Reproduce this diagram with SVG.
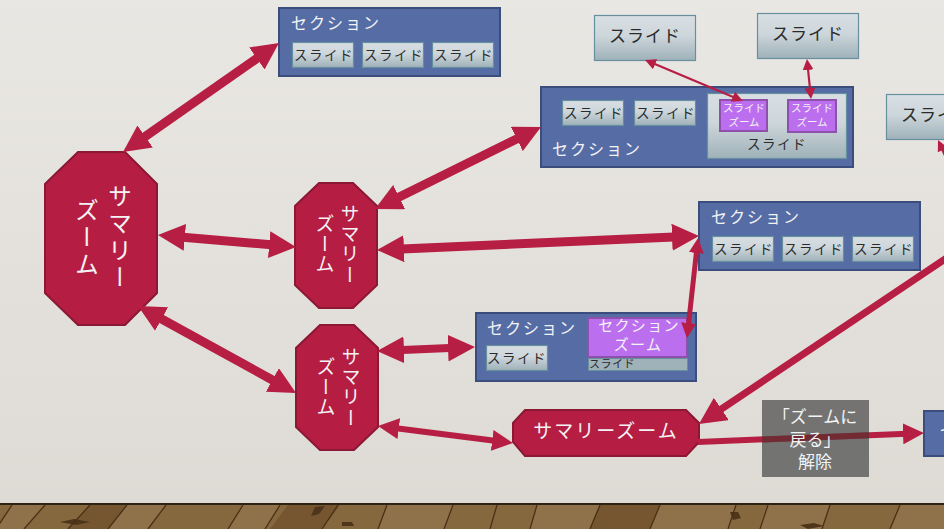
<svg xmlns="http://www.w3.org/2000/svg" width="944" height="529" viewBox="0 0 944 529">
<style>
text{font-family:"Noto Sans CJK JP","Liberation Sans",sans-serif}
.sec{fill:#566ca5;stroke:#3a4d7c;stroke-width:2}
.sl{fill:url(#sg);stroke:#66909f;stroke-width:1.2}
.oct{fill:#b61d42;stroke:#8b1834;stroke-width:2}
.z{fill:#bb6fee;stroke:#8d50ab;stroke-width:2}
.w{fill:#f3f3f5}
.d{fill:#2b2b2b}
.m{text-anchor:middle}
.v{writing-mode:vertical-rl;text-anchor:start}
.a{fill:none;stroke:#b71e44}
.h27{marker-start:url(#h27);marker-end:url(#h27)}
.h21{marker-start:url(#h21);marker-end:url(#h21)}
.h14{marker-start:url(#h14);marker-end:url(#h14)}
.h11{marker-start:url(#h11);marker-end:url(#h11)}
.pl{stroke:#4a3016;stroke-width:1.3;fill:none}
</style>
<defs>
<linearGradient id="bg" x1="0" y1="0" x2="0" y2="1"><stop offset="0" stop-color="#e9e7e3"/><stop offset="1" stop-color="#dedbd5"/></linearGradient>
<linearGradient id="sg" x1="0" y1="0" x2="0" y2="1"><stop offset="0" stop-color="#d8dfe3"/><stop offset=".45" stop-color="#cdd6db"/><stop offset="1" stop-color="#9fb1b9"/></linearGradient>
<marker id="h27" viewBox="0 0 10 10" refX="5" refY="5" markerUnits="userSpaceOnUse" markerWidth="27" markerHeight="27" orient="auto-start-reverse"><path d="M0 0L10 5L0 10z" fill="#b71e44"/></marker>
<marker id="h21" viewBox="0 0 10 10" refX="5" refY="5" markerUnits="userSpaceOnUse" markerWidth="21" markerHeight="21" orient="auto-start-reverse"><path d="M0 0L10 5L0 10z" fill="#b71e44"/></marker>
<marker id="h14" viewBox="0 0 10 10" refX="5" refY="5" markerUnits="userSpaceOnUse" markerWidth="15" markerHeight="15" orient="auto-start-reverse"><path d="M0 0L10 5L0 10z" fill="#b71e44"/></marker>
<marker id="h11" viewBox="0 0 10 10" refX="5" refY="5" markerUnits="userSpaceOnUse" markerWidth="11" markerHeight="11" orient="auto-start-reverse"><path d="M0 0L10 5L0 10z" fill="#b71e44"/></marker>
</defs>
<rect width="944" height="505" fill="url(#bg)"/>
<g id="floor">
<rect y="504" width="944" height="25" fill="#86683f"/>
<path fill="#90724a" d="M12 505H45L24 529H-4zM127 505H166L148 529H108zM243 505H280L265 529H228zM387 505H453L444 529H378zM537 505H600L590 529H530zM660 505H736L728 529H650zM768 505H830L822 529H760zM900 505H944V529H890z"/>
<path fill="#755631" d="M90 505H127L108 529H68zM288 505H340L322 529H270zM600 505H660L650 529H590z"/>
<path fill="#4f351a" d="M60 522l14-3 16 3-14 3zM315 507l10-1-6 8-8 2zM342 522h10l2 4h-12zM730 512h8l3 6-8 2zM800 525l14-2 10 3-16 3z"/>
<path class="pl" d="M12 505L-4 529M45 505L24 529M90 505L68 529M127 505L108 529M166 505L148 529M243 505L228 529M280 505L265 529M338 505L322 529M387 505L378 529M453 505L444 529M497 505L490 529M537 505L530 529M600 505L590 529M660 505L650 529M736 505L728 529M768 505L760 529M830 505L822 529M900 505L890 529"/>
<rect y="503" width="944" height="2" fill="#2d2413"/>
</g>
<g id="s1"><rect class="sec" x="279" y="8" width="221" height="68"/><text class="w" x="291" y="29" font-size="16" letter-spacing="2">セクション</text>
<rect class="sl" x="292.500" y="42.500" width="61" height="25"/><text class="d m" x="324" y="60" font-size="13.500" letter-spacing="1.500">スライド</text>
<rect class="sl" x="362.500" y="42.500" width="61" height="25"/><text class="d m" x="394" y="60" font-size="13.500" letter-spacing="1.500">スライド</text>
<rect class="sl" x="432.500" y="42.500" width="61" height="25"/><text class="d m" x="464" y="60" font-size="13.500" letter-spacing="1.500">スライド</text></g>
<g id="t1"><rect class="sl" x="594.500" y="15.500" width="101" height="45"/><text class="d m" x="645" y="42" font-size="17" letter-spacing="1">スライド</text></g>
<g id="t2"><rect class="sl" x="757.500" y="13.500" width="101" height="45"/><text class="d m" x="808" y="40" font-size="17" letter-spacing="1">スライド</text></g>
<g id="t3"><rect class="sl" x="886.500" y="94.500" width="101" height="45"/><text class="d" x="901" y="121" font-size="17" letter-spacing="1">スライド</text></g>
<g id="s2"><rect class="sec" x="541" y="87" width="312" height="80"/>
<rect class="sl" x="562.500" y="100.500" width="61" height="25"/><text class="d m" x="594" y="118" font-size="13.500" letter-spacing="1.500">スライド</text>
<rect class="sl" x="634.500" y="100.500" width="61" height="25"/><text class="d m" x="666" y="118" font-size="13.500" letter-spacing="1.500">スライド</text>
<text class="w" x="552" y="155" font-size="16" letter-spacing="2">セクション</text>
<rect class="sl" x="707.500" y="93.500" width="139" height="65"/><text class="d m" x="777" y="149" font-size="13.500" letter-spacing="1.500">スライド</text>
<rect class="z" x="720" y="100" width="47" height="31"/><text class="w m" x="744" y="112" font-size="10.500">スライド</text><text class="w m" x="744" y="126" font-size="10.500">ズーム</text>
<rect class="z" x="788" y="100" width="48" height="32"/><text class="w m" x="812" y="112" font-size="10.500">スライド</text><text class="w m" x="812" y="126" font-size="10.500">ズーム</text></g>
<g id="s3"><rect class="sec" x="699" y="202" width="221" height="68"/><text class="w" x="711" y="223" font-size="16" letter-spacing="2">セクション</text>
<rect class="sl" x="712.500" y="236.500" width="61" height="25"/><text class="d m" x="744" y="254" font-size="13.500" letter-spacing="1.500">スライド</text>
<rect class="sl" x="782.500" y="236.500" width="61" height="25"/><text class="d m" x="814" y="254" font-size="13.500" letter-spacing="1.500">スライド</text>
<rect class="sl" x="852.500" y="236.500" width="61" height="25"/><text class="d m" x="884" y="254" font-size="13.500" letter-spacing="1.500">スライド</text></g>
<g id="s4"><rect class="sec" x="476" y="313" width="220" height="68"/><text class="w" x="487" y="334" font-size="16" letter-spacing="2">セクション</text>
<rect class="sl" x="486.500" y="345.500" width="61" height="25"/><text class="d m" x="517" y="363" font-size="13.500" letter-spacing="1.500">スライド</text>
<rect x="588.500" y="358.500" width="99" height="12" fill="#9fb1b9" stroke="#66909f"/><text class="d" x="589" y="368" font-size="11" letter-spacing=".5">スライド</text>
<rect class="z" x="588" y="318" width="99" height="39"/><text class="w m" x="639" y="331" font-size="15" letter-spacing="1.300">セクション</text><text class="w m" x="638" y="350" font-size="15" letter-spacing="1.300">ズーム</text></g>
<g id="s5"><rect class="sec" x="924" y="411" width="40" height="45"/><text class="w" x="940" y="437" font-size="16">セ</text></g>
<g id="big"><polygon class="oct" points="78,152 125,152 157,184 157,293 125,325 78,325 45,293 45,184"/>
<text class="w v" x="120" y="184" font-size="24" letter-spacing="3">サマリー</text><text class="w v" x="87" y="198" font-size="24" letter-spacing="3">ズーム</text></g>
<g id="m1"><polygon class="oct" points="319,183 353,183 377,206 377,285 353,308 319,308 295,285 295,206"/>
<text class="w v" x="350" y="204" font-size="19" letter-spacing="1.300">サマリー</text><text class="w v" x="325" y="214" font-size="19" letter-spacing="1.300">ズーム</text></g>
<g id="m2"><polygon class="oct" points="320,325 354,325 378,348 378,427 354,450 320,450 296,427 296,348"/>
<text class="w v" x="351" y="347" font-size="19" letter-spacing="1.300">サマリー</text><text class="w v" x="326" y="357" font-size="19" letter-spacing="1.300">ズーム</text></g>
<g id="w"><polygon class="oct" points="525,410 686,410 699,423 699,442 686,456 525,456 513,442 513,423"/>
<text class="w m" x="606" y="438" font-size="19" letter-spacing="2">サマリーズーム</text></g>
<g id="connectors">
<line class="a h27" x1="134.100" y1="144.300" x2="267.900" y2="50.700" stroke-width="9"/>
<line class="a h27" x1="171.400" y1="236.200" x2="282.600" y2="245.800" stroke-width="9"/>
<line class="a h27" x1="149.800" y1="312.500" x2="284.200" y2="386.500" stroke-width="9"/>
<line class="a h27" x1="387.100" y1="203" x2="528.900" y2="133" stroke-width="9"/>
<line class="a h27" x1="390.500" y1="249.400" x2="685.500" y2="236.600" stroke-width="9"/>
<line class="a h27" x1="390.500" y1="350.400" x2="461.500" y2="347.600" stroke-width="8"/>
<line class="a h21" x1="388.400" y1="427.300" x2="502.600" y2="441.700" stroke-width="6"/>
<line class="a h14" x1="697.200" y1="245.500" x2="687.800" y2="330.500" stroke-width="5"/>
<line class="a" style="marker-end:url(#h27)" x1="990" y1="229" x2="710.200" y2="416.500" stroke-width="7"/>
<line class="a" style="marker-end:url(#h21)" x1="698" y1="442" x2="913.500" y2="433.400" stroke-width="6"/>
<line class="a h11" x1="650.100" y1="62.100" x2="737.900" y2="98.900" stroke-width="2.200"/>
<line class="a h11" x1="807.500" y1="64.500" x2="810.500" y2="93.500" stroke-width="2.200"/>
<line class="a" style="marker-end:url(#h11)" x1="950" y1="165" x2="940.400" y2="145" stroke-width="3"/>
</g>
<g id="n"><rect x="762" y="400" width="107" height="77" fill="#5c5b5a" fill-opacity=".82"/>
<line x1="762" y1="439.500" x2="869" y2="435.200" stroke="#722a33" stroke-width="6"/>
<text class="w m" x="815" y="423" font-size="17">「ズームに</text><text class="w m" x="815" y="446" font-size="17">戻る」</text><text class="w m" x="815" y="468" font-size="17">解除</text></g>
</svg>
